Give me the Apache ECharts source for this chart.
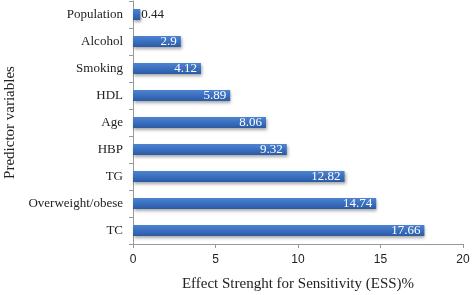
<!DOCTYPE html>
<html><head><meta charset="utf-8">
<script src="https://cdn.jsdelivr.net/npm/echarts@6/dist/echarts.min.js"></script>
<style>html,body{margin:0;padding:0;background:#fff}#c{width:472px;height:295px}</style>
</head><body><div id="c"></div>
<script>
const categories = ['TC','Overweight/obese','TG','HBP','Age','HDL','Smoking','Alcohol','Population'];
const values = [17.66,14.74,12.82,9.32,8.06,5.89,4.12,2.9,0.44];
const xTicks = [0,5,10,15,20];
const serif = '"Liberation Serif", "DejaVu Serif", serif';
const chart = echarts.init(document.getElementById('c'));
chart.setOption({
  animation:false,
  grid:{left:133,right:9,top:1,bottom:51,containLabel:false,outerBoundsMode:'none'},
  xAxis:{type:'value',min:0,max:20,interval:5,
    name:'Effect Strenght for Sensitivity (ESS)%',nameLocation:'middle',nameGap:33,
    nameTextStyle:{fontFamily:serif,fontSize:15,color:'#222'},
    axisLine:{show:true,lineStyle:{color:'#999'}},
    axisTick:{show:true,length:4,lineStyle:{color:'#999'}},
    splitLine:{show:false},
    axisLabel:{fontFamily:'"Liberation Sans", sans-serif',fontSize:12,color:'#222',margin:10,
      formatter:v=>xTicks.includes(v)?String(v):''}},
  yAxis:{type:'category',data:categories,
    name:'Predictor variables',nameLocation:'middle',nameGap:115,nameRotate:90,
    nameTextStyle:{fontFamily:serif,fontSize:15,color:'#222'},
    axisLine:{show:true,lineStyle:{color:'#999'}},
    axisTick:{show:true,length:4,lineStyle:{color:'#999'}},
    axisLabel:{fontFamily:serif,fontSize:13,color:'#222',margin:10}},
  series:[{type:'bar',data:values.map((v,i)=>({value:v,
      label: v<1?{position:'right',color:'#222',distance:1}:{}})),
    barWidth:11,
    itemStyle:{color:new echarts.graphic.LinearGradient(0,0,0,1,[
      {offset:0,color:'#4d84d0'},{offset:0.5,color:'#3a6fbf'},{offset:1,color:'#2c5aa3'}]),
      shadowColor:'rgba(0,0,0,0.35)',shadowBlur:3,shadowOffsetY:2,shadowOffsetX:1},
    label:{show:true,position:'insideRight',color:'#fff',fontFamily:serif,fontSize:13,distance:4}
  }]
});
</script></body></html>
